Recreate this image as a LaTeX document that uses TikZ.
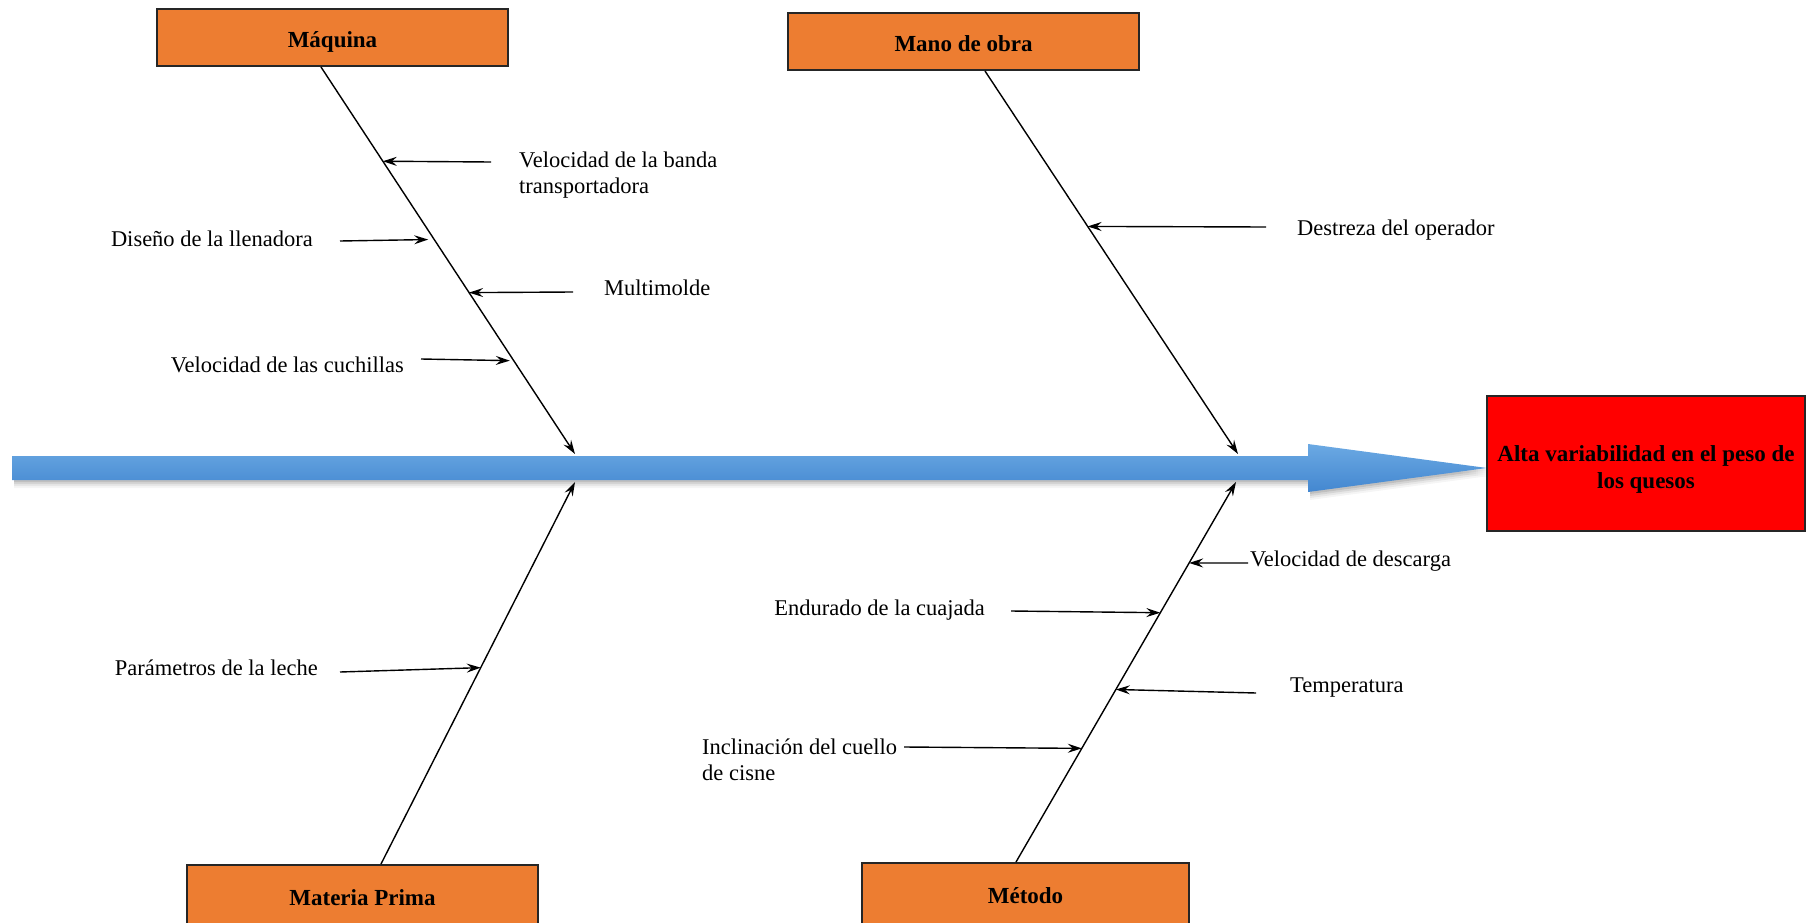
\documentclass[tikz,border=0pt]{standalone}
\usepackage{fontspec}
\setmainfont{Liberation Serif}
\usetikzlibrary{arrows.meta,calc}
\definecolor{causeorange}{HTML}{ED7D31}
\definecolor{spinetop}{HTML}{6BA9E3}
\definecolor{spinebot}{HTML}{4387D0}
\tikzset{
  causebox/.style={draw=black!85, line width=2pt, fill=causeorange,
    font=\bfseries\fontsize{23}{27}\selectfont, inner sep=0pt, minimum height=57pt},
  effectbox/.style={draw=black!85, line width=2pt, fill=red, inner sep=0pt},
  effecttxt/.style={align=center, inner sep=0pt, font=\bfseries\fontsize{23}{27}\selectfont},
  subtxt/.style={font=\fontsize{22.5}{26.5}\selectfont, inner sep=0pt, align=left},
  bone/.style={line width=1.4pt, -{Stealth[length=14pt,width=9pt,inset=5pt]}},
  twig/.style={line width=1.4pt, -{Stealth[length=14pt,width=9pt,inset=5pt]}},
  spineshape/.style={insert path={(12,456) -- (1308,456) -- (1308,444) -- (1487,468)
    -- (1308,492) -- (1308,480) -- (12,480) -- cycle}},
}
\begin{document}
\begin{tikzpicture}[x=1pt,y=-1pt]
\useasboundingbox (0,0) rectangle (1810,923);
\clip (0,0) rectangle (1810,923);

% soft shadow under the spine
\foreach \d/\o in {2/0.10, 4/0.08, 6/0.06, 8/0.04}
  \fill[black, opacity=\o, shift={(2,\d)}, spineshape];
% spine of the fishbone
\shade[top color=spinetop, bottom color=spinebot, spineshape];

% effect and cause boxes
\node[effectbox, minimum width=318pt, minimum height=135pt] (efecto) at (1646,463.5) {};
\node[effecttxt] (efectotxt) at ([yshift=-6pt]efecto.center)
  {Alta variabilidad en el peso de\\los quesos};
\node[causebox, minimum width=351pt, text height=24pt] (maq) at (332.5,37.5) {Máquina};
\node[causebox, minimum width=351pt, text height=20pt] (mano) at (963.5,41.5) {Mano de obra};
\node[causebox, minimum width=351pt, minimum height=66pt] (mat) at (362.5,898) {Materia Prima};
\node[causebox, minimum width=327pt, minimum height=66pt] (met) at (1025.5,896) {Método};

% main bones
\coordinate (s1) at ([xshift=-11.5pt]maq.south);
\coordinate (s2) at ([xshift=21.5pt]mano.south);
\coordinate (s3) at ([xshift=18.5pt]mat.north);
\coordinate (s4) at ([xshift=-9.5pt]met.north);
\coordinate (j1) at (575,454);
\coordinate (j2) at (1238,454);
\coordinate (j3) at (575,482);
\coordinate (j4) at (1236,482);
\draw[bone] (s1) -- (j1);
\draw[bone] (s2) -- (j2);
\draw[bone] (s3) -- (j3);
\draw[bone] (s4) -- (j4);

% sub-causes: Máquina
\node[subtxt, anchor=west] (c1) at (519,175) {Velocidad de la banda\\transportadora};
\coordinate (t1) at (491,162);
\draw[twig] (t1) -- ($(s1)!0.2435!(j1)$);
\node[subtxt, anchor=east] (c2) at (313,239) {Diseño de la llenadora};
\coordinate (t2) at (340,241);
\draw[twig, shorten >=6pt] (t2) -- ($(s1)!0.4456!(j1)$);
\node[subtxt, anchor=west] (c3) at (604,288) {Multimolde};
\coordinate (t3) at (573,292);
\draw[twig] (t3) -- ($(s1)!0.583!(j1)$);
\node[subtxt, anchor=east] (c4) at (404,365) {Velocidad de las cuchillas};
\coordinate (t4) at (421,359);
\draw[twig, shorten >=4pt] (t4) -- ($(s1)!0.759!(j1)$);

% sub-causes: Mano de obra
\node[subtxt, anchor=west] (c5) at (1297,230) {Destreza del operador};
\coordinate (t5) at (1266,227);
\draw[twig] (t5) -- ($(s2)!0.4058!(j2)$);

% sub-causes: Materia Prima
\node[subtxt, anchor=east] (c6) at (318,668) {Parámetros de la leche};
\coordinate (t6) at (340,672);
\draw[twig] (t6) -- ($(s3)!0.514!(j3)$);

% sub-causes: Método
\node[subtxt, anchor=west] (c7) at (1250,561) {Velocidad de descarga};
\coordinate (t7) at (1248,563);
\draw[twig] (t7) -- ($(s4)!0.787!(j4)$);
\node[subtxt, anchor=east] (c8) at (985,610) {Endurado de la cuajada};
\coordinate (t8) at (1011,611);
\draw[twig] (t8) -- ($(s4)!0.656!(j4)$);
\node[subtxt, anchor=west] (c9) at (1290,688) {Temperatura};
\coordinate (t9) at (1256,693);
\draw[twig] (t9) -- ($(s4)!0.454!(j4)$);
\node[subtxt, anchor=west] (c10) at (702,760) {Inclinación del cuello\\de cisne};
\coordinate (t10) at (904,747);
\draw[twig] (t10) -- ($(s4)!0.299!(j4)$);
\end{tikzpicture}
\end{document}
